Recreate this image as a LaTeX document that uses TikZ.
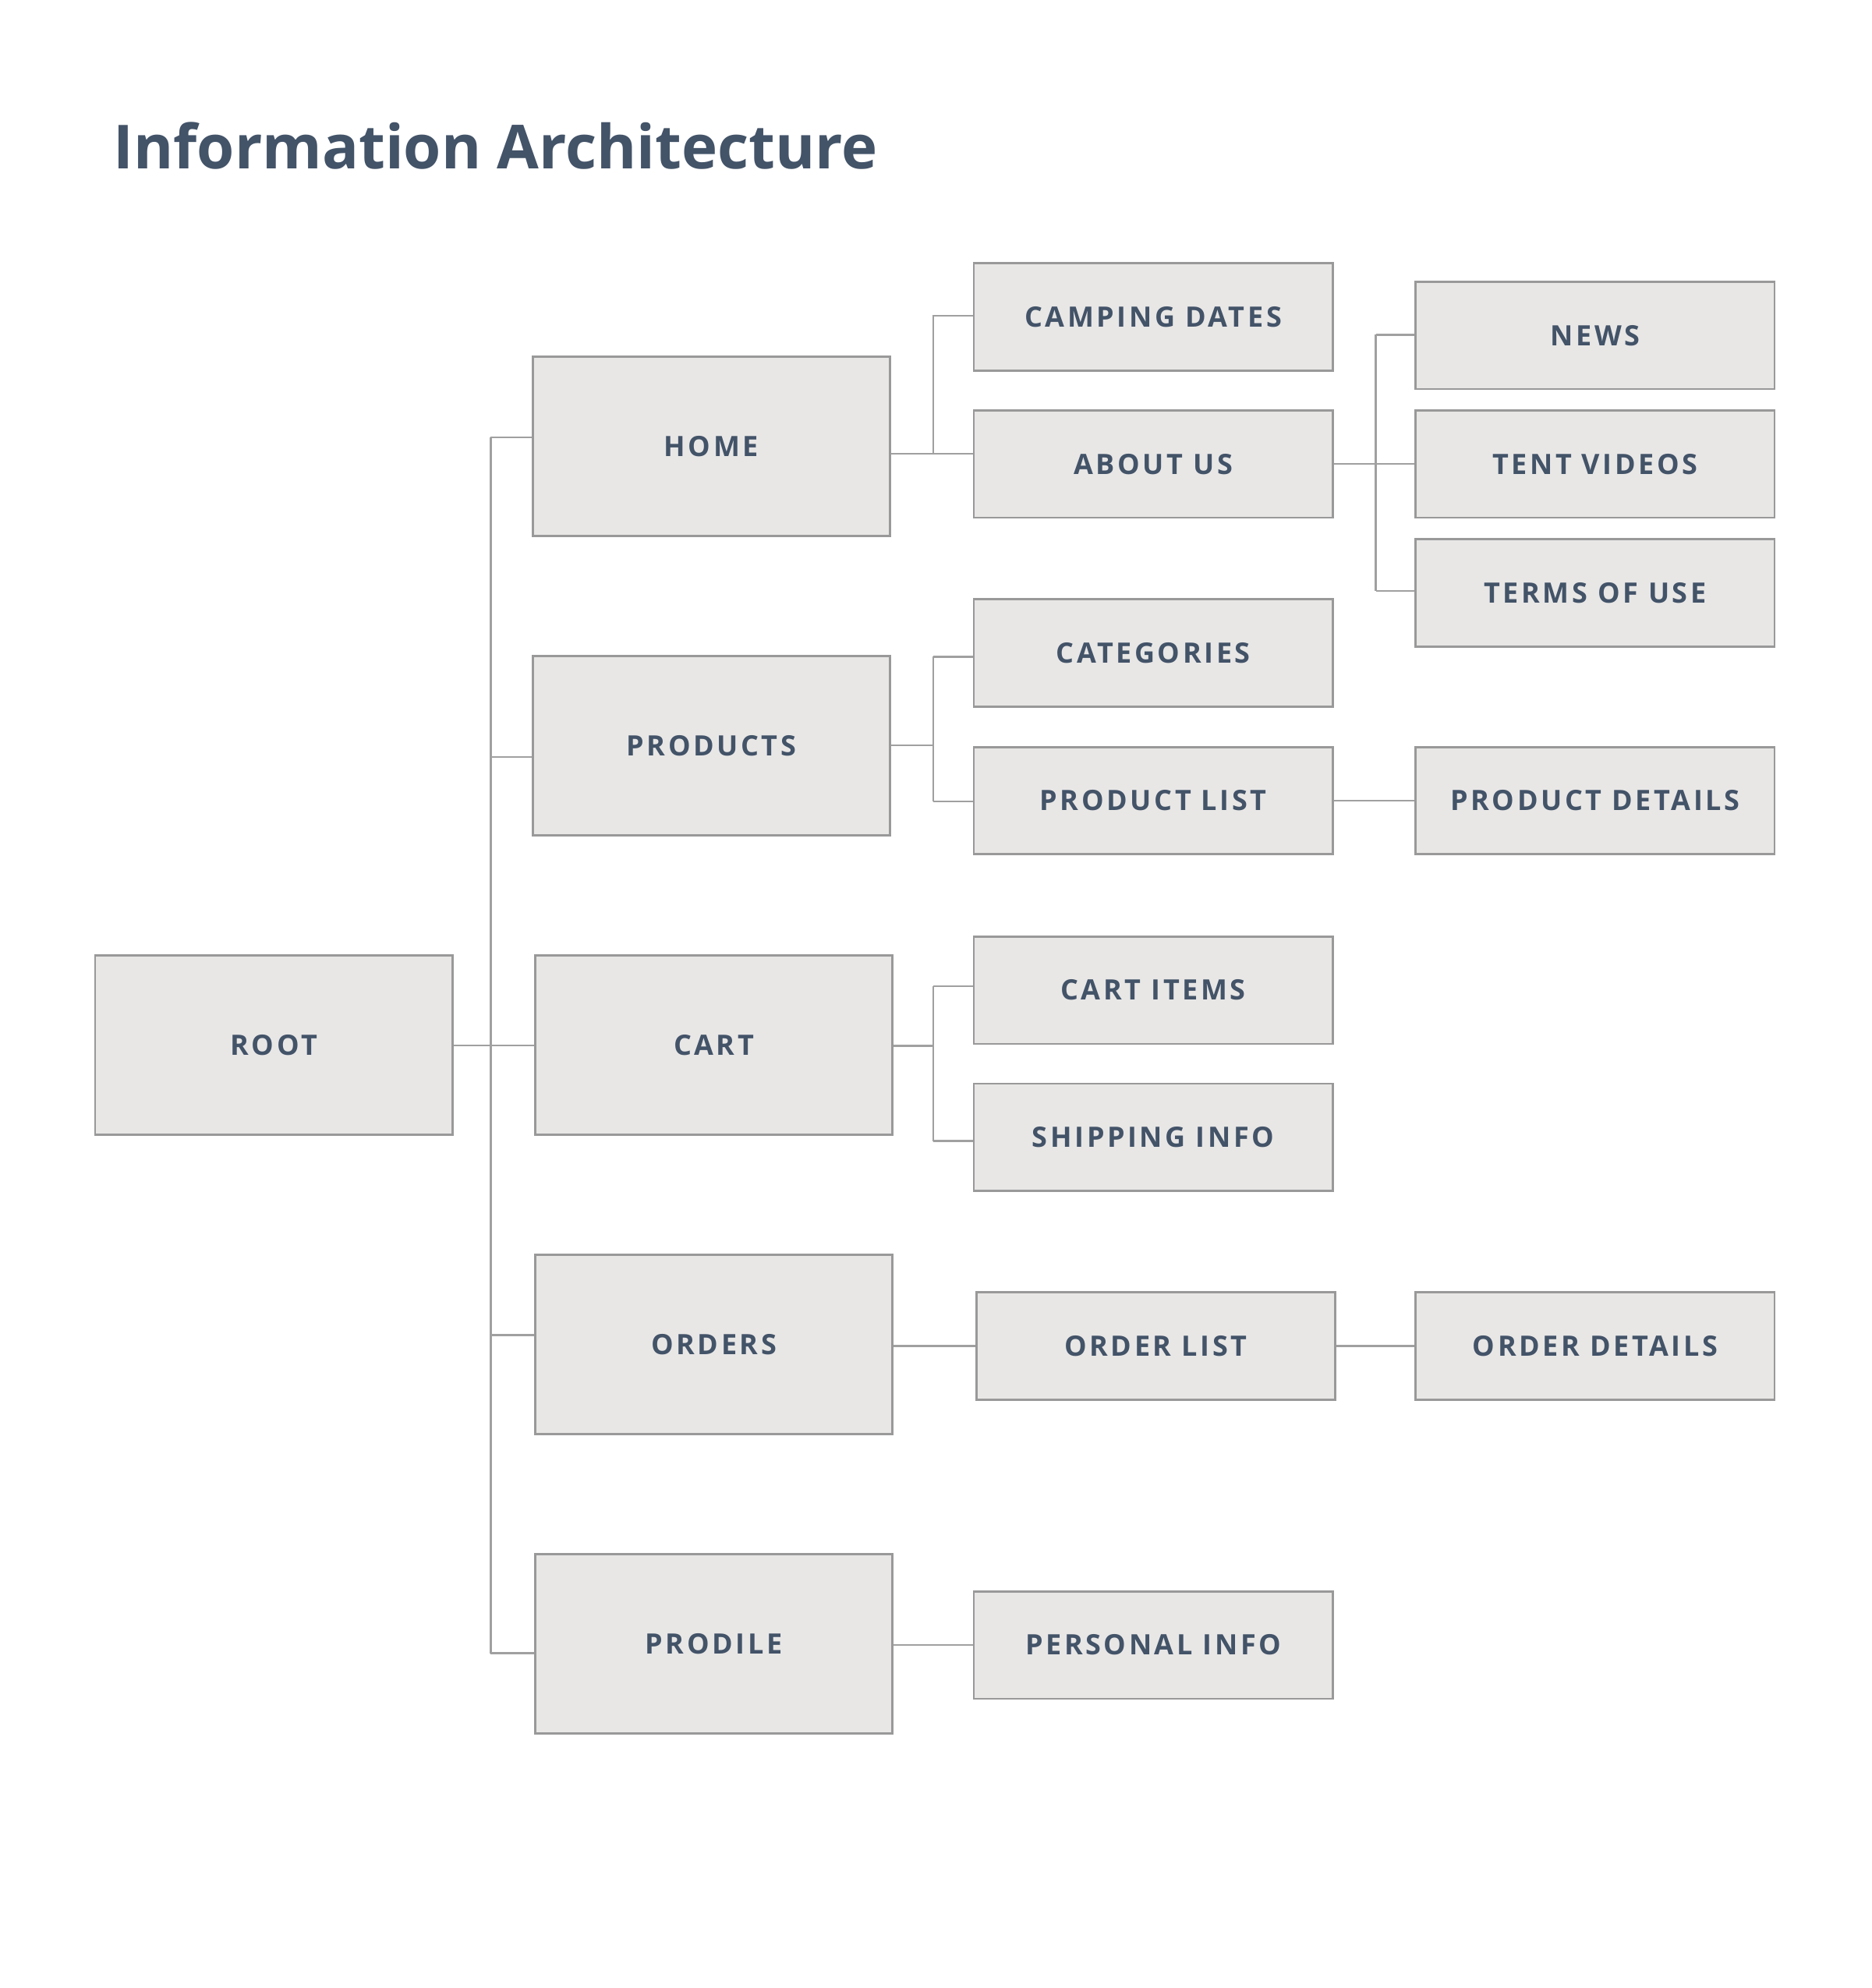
\documentclass[tikz,border=0pt]{standalone}
\usepackage{fontspec}
\setmainfont{Open Sans}
\newfontfamily\labelfont[LetterSpace=10]{Open Sans Bold}
\newfontfamily\titlefont{Open Sans Bold}
\begin{document}
\definecolor{ink}{HTML}{435368}
\definecolor{boxfill}{HTML}{E8E7E6}
\definecolor{boxline}{HTML}{999999}
\definecolor{wire}{HTML}{A0A0A0}
\begin{tikzpicture}[x=0.4065pt,y=-0.4065pt,
  box/.style={draw=boxline,fill=boxfill,line width=0.7pt,inner sep=0pt,
    text=ink,font=\labelfont\fontsize{9}{10}\selectfont},
  bigbox/.style={box,minimum width=114.6pt,minimum height=57.5pt},
  smallbox/.style={box,minimum width=115pt,minimum height=34.4pt},
  conn/.style={draw=wire,line width=0.6pt}]
\useasboundingbox[fill=white] (0,0) rectangle (1476,1568);

% title
\node[anchor=base west,inner sep=0pt,text=ink,font=\titlefont\fontsize{19.5}{23}\selectfont]
  (title) at (89,133) {Information Architecture};

% first level
\node[bigbox] (root) at (216,824.5) {ROOT};
\node[bigbox] (home) at (561,352) {HOME};
\node[bigbox] (products) at (561,588) {PRODUCTS};
\node[bigbox] (cart) at (563,824.5) {CART};
\node[bigbox] (orders) at (563,1060.5) {ORDERS};
\node[bigbox] (prodile) at (563,1296.5) {PRODILE};

% second level
\node[smallbox] (camping) at (909.5,250) {CAMPING DATES};
\node[smallbox] (about) at (909.5,366) {ABOUT US};
\node[smallbox] (categories) at (909.5,515) {CATEGORIES};
\node[smallbox] (plist) at (909.5,631.5) {PRODUCT LIST};
\node[smallbox] (citems) at (909.5,781) {CART ITEMS};
\node[smallbox] (shipping) at (909.5,897) {SHIPPING INFO};
\node[smallbox] (olist) at (911.5,1061.5) {ORDER LIST};
\node[smallbox] (personal) at (909.5,1297.5) {PERSONAL INFO};

% third level
\node[smallbox] (news) at (1258,264.5) {NEWS};
\node[smallbox] (tent) at (1258,366) {TENT VIDEOS};
\node[smallbox] (terms) at (1258,467.5) {TERMS OF USE};
\node[smallbox] (pdetails) at (1258,631.5) {PRODUCT DETAILS};
\node[smallbox] (odetails) at (1258,1061.5) {ORDER DETAILS};

% trunk from the root
\coordinate (tA) at (387,345);
\coordinate (tB) at (387,597);
\coordinate (tD) at (387,1053);
\coordinate (tE) at (387,1304);
\draw[conn] (root.east) -- (cart.west);
\draw[conn] (tA) -- (tE);
\draw[conn] (tA) -- (home.west |- tA);
\draw[conn] (tB) -- (products.west |- tB);
\draw[conn] (tD) -- (orders.west |- tD);
\draw[conn] (tE) -- (prodile.west |- tE);

% home branch
\coordinate (hS) at (736,358);
\coordinate (hT) at (736,249);
\draw[conn] (home.east |- hS) -- (about.west |- hS);
\draw[conn] (hS) -- (hT) -- (camping.west |- hT);

% about us branch
\coordinate (aT) at (1085,264);
\coordinate (aB) at (1085,466);
\draw[conn] (about.east) -- (tent.west);
\draw[conn] (aT) -- (aB);
\draw[conn] (aT) -- (news.west |- aT);
\draw[conn] (aB) -- (terms.west |- aB);

% products branch
\coordinate (pS) at (736,588);
\coordinate (pT) at (736,518);
\coordinate (pB) at (736,632);
\draw[conn] (products.east |- pS) -- (pS);
\draw[conn] (pT) -- (pB);
\draw[conn] (pT) -- (categories.west |- pT);
\draw[conn] (pB) -- (plist.west |- pB);
\draw[conn] (plist.east) -- (pdetails.west);

% cart branch
\coordinate (cS) at (736,825);
\coordinate (cT) at (736,778);
\coordinate (cB) at (736,900);
\draw[conn] (cart.east |- cS) -- (cS);
\draw[conn] (cT) -- (cB);
\draw[conn] (cT) -- (citems.west |- cT);
\draw[conn] (cB) -- (shipping.west |- cB);

% orders and profile branches
\draw[conn] (orders.east |- olist.west) -- (olist.west);
\draw[conn] (olist.east) -- (odetails.west);
\draw[conn] (prodile.east |- personal.west) -- (personal.west);
\end{tikzpicture}
\end{document}
